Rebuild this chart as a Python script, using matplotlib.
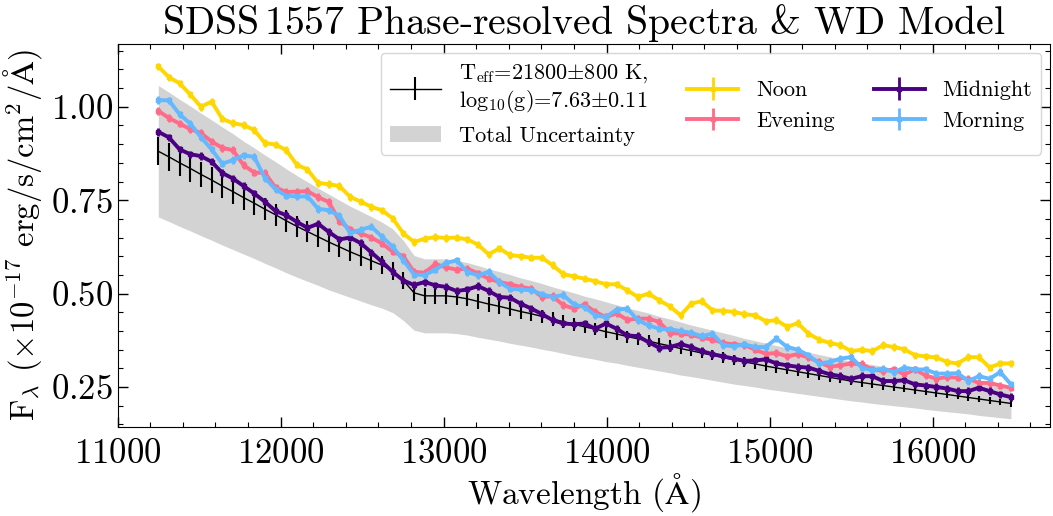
import numpy as np
import matplotlib
matplotlib.use('Agg')
import matplotlib.pyplot as plt
from matplotlib.ticker import MultipleLocator

plt.rcParams['font.family'] = ['cmr10', 'DejaVu Serif']
plt.rcParams['mathtext.fontset'] = 'cm'
plt.rcParams['axes.unicode_minus'] = False
plt.rcParams['axes.formatter.use_mathtext'] = True

# wavelength grid of the binned spectra (Angstrom)
wavelength = np.linspace(11250, 16480, 81)

# WD model and its error bars
model = [0.881, 0.866, 0.850, 0.835, 0.819, 0.804, 0.788, 0.773, 0.757, 0.742,
         0.726, 0.711, 0.695, 0.680, 0.666, 0.652, 0.638, 0.625, 0.612, 0.600,
         0.588, 0.576, 0.561, 0.535, 0.502, 0.494, 0.494, 0.494, 0.491, 0.486,
         0.479, 0.472, 0.466, 0.459, 0.452, 0.446, 0.439, 0.432, 0.425, 0.418,
         0.411, 0.405, 0.398, 0.392, 0.385, 0.379, 0.373, 0.366, 0.360, 0.353,
         0.347, 0.341, 0.335, 0.329, 0.323, 0.317, 0.312, 0.306, 0.301, 0.296,
         0.291, 0.286, 0.281, 0.276, 0.271, 0.266, 0.262, 0.258, 0.254, 0.250,
         0.246, 0.242, 0.238, 0.234, 0.230, 0.226, 0.222, 0.218, 0.214, 0.210,
         0.206]
model_err = [0.037, 0.037, 0.036, 0.035, 0.034, 0.034, 0.033, 0.032, 0.032, 0.031,
             0.030, 0.030, 0.029, 0.029, 0.028, 0.027, 0.027, 0.026, 0.026, 0.025,
             0.025, 0.024, 0.024, 0.022, 0.021, 0.021, 0.021, 0.021, 0.021, 0.020,
             0.020, 0.020, 0.020, 0.019, 0.019, 0.019, 0.018, 0.018, 0.018, 0.018,
             0.017, 0.017, 0.017, 0.016, 0.016, 0.016, 0.016, 0.015, 0.015, 0.015,
             0.015, 0.014, 0.014, 0.014, 0.014, 0.013, 0.013, 0.013, 0.013, 0.012,
             0.012, 0.012, 0.012, 0.012, 0.011, 0.011, 0.011, 0.011, 0.011, 0.011,
             0.010, 0.010, 0.010, 0.010, 0.010, 0.009, 0.009, 0.009, 0.009, 0.009,
             0.009]

# total uncertainty band
band_hi = [1.057, 1.039, 1.020, 1.002, 0.983, 0.965, 0.946, 0.928, 0.908, 0.890,
           0.871, 0.853, 0.834, 0.816, 0.799, 0.782, 0.766, 0.750, 0.734, 0.720,
           0.706, 0.691, 0.673, 0.642, 0.602, 0.593, 0.593, 0.593, 0.589, 0.583,
           0.575, 0.566, 0.559, 0.551, 0.542, 0.535, 0.527, 0.518, 0.510, 0.502,
           0.493, 0.486, 0.478, 0.470, 0.462, 0.455, 0.448, 0.439, 0.432, 0.424,
           0.416, 0.409, 0.402, 0.395, 0.388, 0.380, 0.374, 0.367, 0.361, 0.355,
           0.349, 0.343, 0.337, 0.331, 0.325, 0.319, 0.314, 0.310, 0.305, 0.300,
           0.295, 0.290, 0.286, 0.281, 0.276, 0.271, 0.266, 0.262, 0.257, 0.252,
           0.247]
band_lo = [0.705, 0.693, 0.680, 0.668, 0.655, 0.643, 0.630, 0.618, 0.606, 0.594,
           0.581, 0.569, 0.556, 0.544, 0.533, 0.522, 0.510, 0.500, 0.490, 0.480,
           0.470, 0.461, 0.449, 0.428, 0.402, 0.395, 0.395, 0.395, 0.393, 0.389,
           0.383, 0.378, 0.373, 0.367, 0.362, 0.357, 0.351, 0.346, 0.340, 0.334,
           0.329, 0.324, 0.318, 0.314, 0.308, 0.303, 0.298, 0.293, 0.288, 0.282,
           0.278, 0.273, 0.268, 0.263, 0.258, 0.254, 0.250, 0.245, 0.241, 0.237,
           0.233, 0.229, 0.225, 0.221, 0.217, 0.213, 0.210, 0.206, 0.203, 0.200,
           0.197, 0.194, 0.190, 0.187, 0.184, 0.181, 0.178, 0.174, 0.171, 0.168,
           0.165]

# observed spectra by orbital phase
noon = [1.108, 1.079, 1.063, 1.033, 1.000, 1.014, 0.968, 0.956, 0.951, 0.938,
        0.903, 0.899, 0.884, 0.845, 0.832, 0.796, 0.793, 0.788, 0.759, 0.746,
        0.732, 0.723, 0.701, 0.661, 0.638, 0.647, 0.651, 0.649, 0.650, 0.645,
        0.631, 0.605, 0.621, 0.603, 0.600, 0.596, 0.596, 0.576, 0.552, 0.546,
        0.540, 0.533, 0.525, 0.525, 0.509, 0.491, 0.500, 0.482, 0.466, 0.442,
        0.473, 0.480, 0.455, 0.454, 0.451, 0.445, 0.442, 0.426, 0.429, 0.411,
        0.421, 0.393, 0.377, 0.368, 0.362, 0.346, 0.350, 0.346, 0.362, 0.357,
        0.351, 0.335, 0.332, 0.329, 0.317, 0.313, 0.330, 0.330, 0.302, 0.313,
        0.313]
evening = [0.989, 0.970, 0.955, 0.940, 0.930, 0.907, 0.890, 0.884, 0.844, 0.824,
           0.823, 0.784, 0.772, 0.773, 0.774, 0.758, 0.745, 0.694, 0.672, 0.661,
           0.650, 0.634, 0.612, 0.600, 0.558, 0.556, 0.579, 0.570, 0.564, 0.567,
           0.554, 0.540, 0.531, 0.525, 0.518, 0.513, 0.491, 0.493, 0.469, 0.460,
           0.471, 0.451, 0.437, 0.447, 0.430, 0.433, 0.433, 0.424, 0.395, 0.393,
           0.390, 0.382, 0.377, 0.368, 0.364, 0.362, 0.350, 0.339, 0.341, 0.332,
           0.338, 0.329, 0.317, 0.304, 0.308, 0.313, 0.311, 0.297, 0.293, 0.297,
           0.284, 0.297, 0.281, 0.272, 0.277, 0.275, 0.272, 0.261, 0.261, 0.254,
           0.248]
midnight = [0.933, 0.918, 0.886, 0.873, 0.868, 0.853, 0.823, 0.808, 0.788, 0.768,
            0.746, 0.721, 0.710, 0.692, 0.676, 0.687, 0.665, 0.645, 0.650, 0.635,
            0.610, 0.585, 0.558, 0.535, 0.523, 0.531, 0.522, 0.518, 0.507, 0.511,
            0.520, 0.507, 0.491, 0.489, 0.473, 0.460, 0.445, 0.429, 0.420, 0.418,
            0.420, 0.406, 0.420, 0.406, 0.388, 0.386, 0.370, 0.355, 0.357, 0.365,
            0.357, 0.346, 0.338, 0.332, 0.326, 0.320, 0.321, 0.324, 0.313, 0.308,
            0.304, 0.302, 0.293, 0.284, 0.279, 0.272, 0.279, 0.279, 0.266, 0.266,
            0.268, 0.257, 0.254, 0.250, 0.246, 0.239, 0.239, 0.248, 0.239, 0.230,
            0.223]
morning = [1.018, 1.017, 0.980, 0.955, 0.919, 0.886, 0.848, 0.857, 0.870, 0.866,
           0.810, 0.779, 0.762, 0.760, 0.760, 0.727, 0.723, 0.708, 0.662, 0.671,
           0.679, 0.652, 0.625, 0.589, 0.551, 0.550, 0.564, 0.582, 0.589, 0.558,
           0.549, 0.558, 0.531, 0.513, 0.511, 0.509, 0.498, 0.491, 0.496, 0.471,
           0.464, 0.442, 0.437, 0.457, 0.460, 0.429, 0.415, 0.406, 0.404, 0.400,
           0.395, 0.386, 0.393, 0.362, 0.359, 0.364, 0.357, 0.357, 0.380, 0.357,
           0.350, 0.335, 0.313, 0.317, 0.326, 0.330, 0.302, 0.295, 0.299, 0.290,
           0.302, 0.297, 0.297, 0.286, 0.286, 0.287, 0.266, 0.279, 0.272, 0.290,
           0.257]
obs_err = 0.01

phases = ['Noon', 'Evening', 'Midnight', 'Morning']
phase_colors = ['#FFD700', '#FF6B88', '#4B0082', '#63B8FF']
phase_flux = [noon, evening, midnight, morning]

fig = plt.figure(figsize=(10.53, 5.16), dpi=100)
ax = fig.add_axes([0.1116, 0.1725, 0.8856, 0.7422])

band = ax.fill_between(wavelength, band_lo, band_hi, color='lightgray', lw=0,
                       zorder=1)
mod = ax.errorbar(wavelength, model, yerr=model_err, color='k', lw=1,
                  elinewidth=1.5, zorder=2)

obs = []
for name, flux, c in zip(phases, phase_flux, phase_colors):
    h = ax.errorbar(wavelength, flux, yerr=obs_err, color=c, lw=2.8,
                    marker='s', ms=3, elinewidth=2, zorder=3)
    obs.append(h)

handles = [mod, band] + obs
labels = ['T$_{\\rm eff}$=21800$\\pm$800 K,\nlog$_{10}$(g)=7.63$\\pm$0.11',
          'Total Uncertainty'] + phases
ax.legend(handles, labels, ncol=3, loc='upper right', fontsize=16,
          columnspacing=1.75, handlelength=2.3, handletextpad=0.8,
          borderaxespad=0.4, labelspacing=0.5)

ax.set_xlim(11000, 16720)
ax.set_ylim(0.143, 1.168)
ax.xaxis.set_major_locator(MultipleLocator(1000))
ax.xaxis.set_minor_locator(MultipleLocator(200))
ax.yaxis.set_major_locator(MultipleLocator(0.25))
ax.yaxis.set_minor_locator(MultipleLocator(0.05))
ax.tick_params(which='both', direction='in', top=True, right=True,
               labelsize=25)
ax.tick_params(axis='x', which='major', pad=8)
ax.tick_params(axis='y', which='major', pad=3)
ax.tick_params(which='major', length=7, width=1)
ax.tick_params(which='minor', length=3.5, width=0.8)

ax.set_xlabel('Wavelength ($\\mathrm{\\AA}$)', fontsize=24, labelpad=1)
ax.set_ylabel('F$_\\lambda$ ($\\times10^{-17}$ erg/s/cm$^2$/$\\mathrm{\\AA}$)',
              fontsize=23.5, labelpad=5)
ax.set_title('SDSS$\\,$1557 Phase-resolved Spectra & WD Model', fontsize=28.6)

fig.savefig('out.png', dpi=100)
